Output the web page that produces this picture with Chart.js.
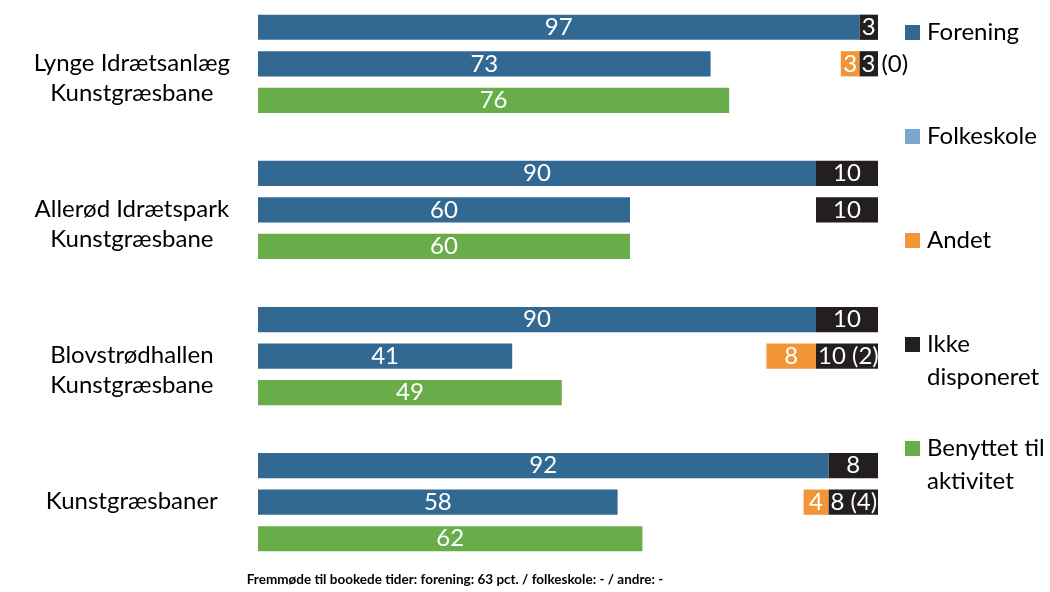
<!DOCTYPE html>
<html>
<head>
<meta charset="utf-8">
<script src="https://cdn.jsdelivr.net/npm/chart.js@4"></script>
<style>
  html, body { margin: 0; padding: 0; background: #fff; }
  #wrap { width: 1050px; height: 592px; }
</style>
</head>
<body>
<div id="wrap"><canvas id="chart" width="1050" height="592"></canvas></div>
<script>
// rows: 3 bars per group, one empty row between groups; group name sits on the 2nd row
const rowLabels = ['', ['Lynge Idrætsanlæg', 'Kunstgræsbane'], '', '',
                   '', ['Allerød Idrætspark', 'Kunstgræsbane'], '', '',
                   '', ['Blovstrødhallen', 'Kunstgræsbane'], '', '',
                   '', ['Kunstgræsbaner', ''], ''];

const forening   = [97, 73, null, null, 90, 60, null, null, 90, 41, null, null, 92, 58, null];
const folkeskole = [null, null, null, null, null, null, null, null, null, null, null, null, null, null, null];
const andet      = [null, 3, null, null, null, null, null, null, null, 8, null, null, null, 4, null];
const ikke       = [3, 3, null, null, 10, 10, null, null, 10, 10, null, null, 8, 8, null];
const benyttet   = [null, null, 76, null, null, null, 60, null, null, null, 49, null, null, null, 62];
// numbers in brackets next to the "ikke disponeret" bars
const bracket    = [null, 0, null, null, null, null, null, null, null, 2, null, null, null, 4, null];

const legendLabels = [['Forening'], ['Folkeskole'], ['Andet'], ['Ikke', 'disponeret'], ['Benyttet til', 'aktivitet']];
const footerText = 'Fremmøde til bookede tider: forening: 63 pct. / folkeskole: - / andre: -';

const colors = {
    forening: '#316993',
    folkeskole: '#7ba6cf',
    andet: '#f19537',
    ikke: '#231f20',
    benyttet: '#69ad4b'
};

// empty space between the blue bar and the bars pushed to the right end
const gap = forening.map((v, i) => (andet[i] != null || (ikke[i] != null && forening[i] < 90))
    ? 100 - v - (andet[i] || 0) - (ikke[i] || 0) : null);

const FONT = 'Lato, "Noto Sans", sans-serif';

const valueLabels = {
    id: 'valueLabels',
    afterDatasetsDraw(chart) {
        const c = chart.ctx;
        c.save();
        c.font = '24px ' + FONT;
        c.textBaseline = 'middle';
        chart.data.datasets.forEach((ds, di) => {
            if (ds.noLabel) return;
            const meta = chart.getDatasetMeta(di);
            meta.data.forEach((bar, i) => {
                const v = ds.data[i];
                if (v == null) return;
                const left = bar.base, right = bar.x;
                const top = bar.y - bar.height / 2;
                if (ds.key === 'ikke' && bracket[i] != null) {
                    const txt = v + ' (' + bracket[i] + ')';
                    const x = left + 2;
                    c.textAlign = 'left';
                    c.fillStyle = '#000';
                    c.fillText(txt, x, bar.y);
                    c.save();
                    c.beginPath();
                    c.rect(left, top, right - left, bar.height);
                    c.clip();
                    c.fillStyle = '#fff';
                    c.fillText(txt, x, bar.y);
                    c.restore();
                } else {
                    c.textAlign = 'center';
                    c.fillStyle = '#fff';
                    c.fillText(String(v), (left + right) / 2, bar.y);
                }
            });
        });
        c.restore();
    }
};

const sideLegend = {
    id: 'sideLegend',
    afterDraw(chart) {
        const c = chart.ctx;
        c.save();
        c.font = '24px ' + FONT;
        c.textBaseline = 'middle';
        c.textAlign = 'left';
        const items = chart.data.datasets.filter(d => d.legendIndex != null);
        items.forEach(ds => {
            const y = 32 + ds.legendIndex * 104;
            c.fillStyle = ds.backgroundColor;
            c.fillRect(905, y - 7, 15, 15);
            c.fillStyle = '#000';
            legendLabels[ds.legendIndex].forEach((line, k) => {
                c.fillText(line, 927, y + k * 33);
            });
        });
        c.font = 'bold 13.5px ' + FONT;
        c.textAlign = 'center';
        c.fillText(footerText, 455, 580);
        c.restore();
    }
};

new Chart(document.getElementById('chart'), {
    type: 'bar',
    data: {
        labels: rowLabels,
        datasets: [
            { key: 'forening', label: 'Forening', data: forening, backgroundColor: colors.forening, legendIndex: 0 },
            { key: 'folkeskole', label: 'Folkeskole', data: folkeskole, backgroundColor: colors.folkeskole, legendIndex: 1 },
            { key: 'gap', label: '', data: gap, backgroundColor: 'rgba(0,0,0,0)', noLabel: true },
            { key: 'andet', label: 'Andet', data: andet, backgroundColor: colors.andet, legendIndex: 2 },
            { key: 'ikke', label: 'Ikke disponeret', data: ikke, backgroundColor: colors.ikke, legendIndex: 3 },
            { key: 'benyttet', label: 'Benyttet til aktivitet', data: benyttet, backgroundColor: colors.benyttet, legendIndex: 4 }
        ]
    },
    options: {
        indexAxis: 'y',
        responsive: false,
        animation: false,
        datasets: { bar: { barPercentage: 0.69, categoryPercentage: 1, borderWidth: 0 } },
        layout: { padding: { top: 9, bottom: 35, right: 172, left: 0 } },
        plugins: {
            legend: { display: false },
            tooltip: { enabled: false }
        },
        scales: {
            x: { stacked: true, min: 0, max: 100, display: false },
            y: {
                stacked: true,
                grid: { display: false },
                border: { display: false },
                afterFit(scale) {
                    scale.width = 258;
                    scale.paddingTop = 0;
                    scale.paddingBottom = 0;
                },
                ticks: {
                    autoSkip: false,
                    crossAlign: 'center',
                    color: '#000',
                    padding: 20,
                    labelOffset: 14.5,
                    font: { family: FONT, size: 24, lineHeight: 1.25 }
                }
            }
        }
    },
    plugins: [valueLabels, sideLegend]
});
</script>
</body>
</html>
